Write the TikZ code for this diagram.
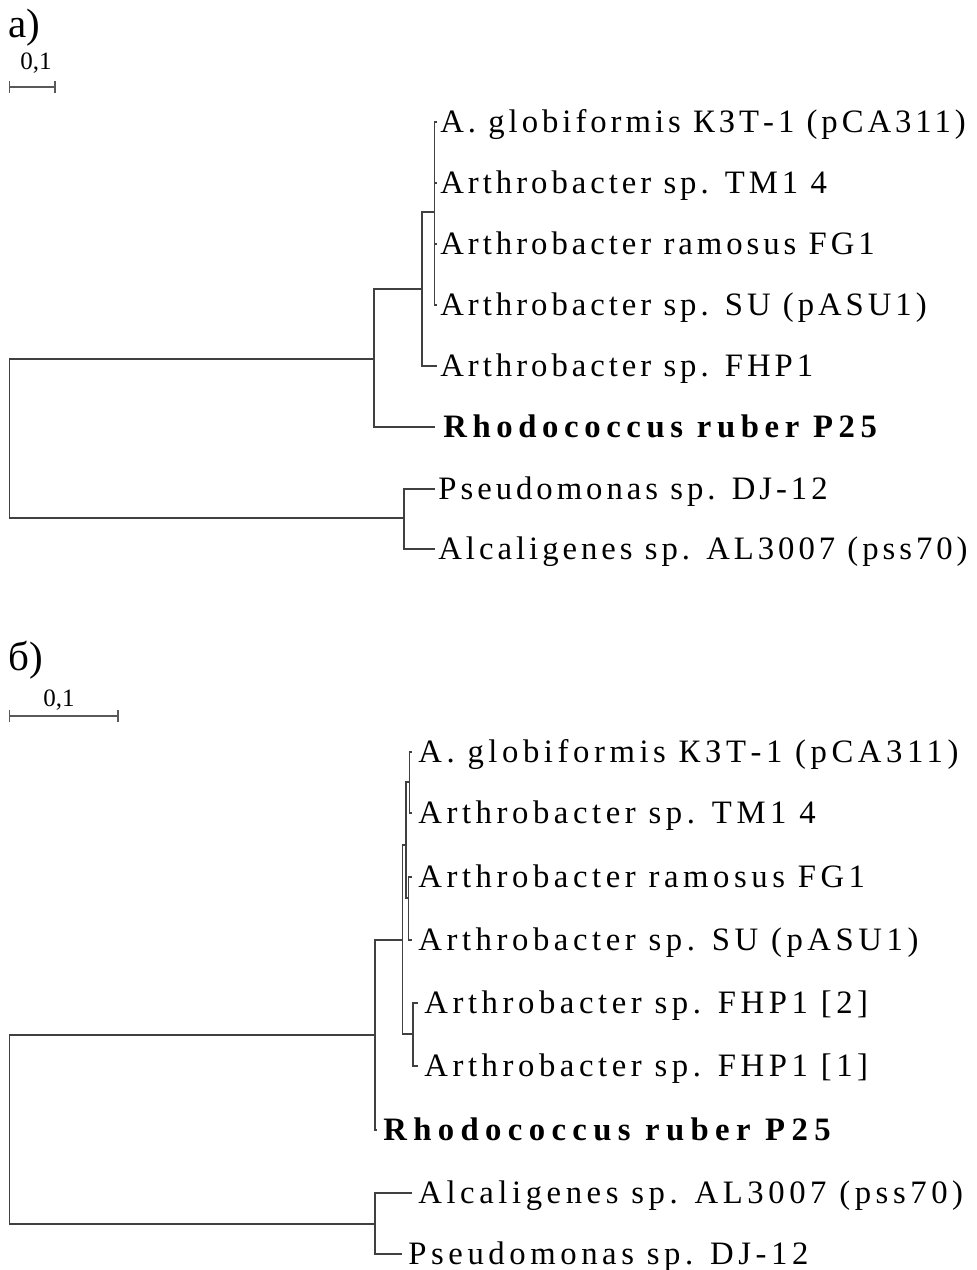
\documentclass[tikz,border=0pt]{standalone}
\usepackage{fontspec}
\setmainfont{Liberation Serif}
\newfontfamily\taxfont[LetterSpace=12.2]{Liberation Serif}
\newfontfamily\taxfontw[LetterSpace=14]{Liberation Serif}
\newfontfamily\strainfont[LetterSpace=17.2]{Liberation Serif}
\newfontfamily\strainfontw[LetterSpace=19.5]{Liberation Serif}
\usetikzlibrary{positioning}
\tikzset{
  branch/.style={draw=black!75, line width=0.6pt},
  scalebar/.style={draw=black!65, line width=0.9pt},
  taxon/.style={font=\taxfont\fontsize{16.35}{18}\selectfont, inner sep=0pt, text height=10.8pt, text depth=0pt},
  taxonw/.style={taxon, font=\taxfontw\fontsize{16.35}{18}\selectfont},
  strain/.style={taxon, font=\strainfont\bfseries\fontsize{16.35}{18}\selectfont},
  strainw/.style={taxon, font=\strainfontw\bfseries\fontsize{16.35}{18}\selectfont},
  panel/.style={font=\fontsize{20.5}{22}\selectfont, inner sep=0pt, anchor=base west},
  scalelbl/.style={font=\fontsize{12.5}{14}\selectfont, inner sep=0pt}
}
\begin{document}
\begin{tikzpicture}[x=0.5pt,y=-0.5pt]
  \useasboundingbox (0,0) rectangle (976,1270);
  % --- panel a: labels and scale ---
  \node[panel] (pa) at (8,37) {а)};
  \node[scalelbl] (sla) at (36,63.5) {0,1};
  \coordinate (sa0) at (9.5,87);
  \coordinate (sa1) at (55,87);
  \draw[scalebar] (sa0) -- (sa1);
  \draw[scalebar] (sa0) ++(0,-6) -- ++(0,12);
  \draw[scalebar] (sa1) ++(0,-6) -- ++(0,12);
  % --- panel a: inner nodes ---
  \coordinate (ra) at (9.5,438.5);
  \coordinate (a1) at (374,359);
  \coordinate (a2) at (422,289);
  \coordinate (a3) at (434.5,212);
  \coordinate (a4) at (404,518);
  \draw[branch] (ra) |- (a1);
  \draw[branch] (ra) |- (a4);
  \draw[branch] (a1) |- (a2);
  \draw[branch] (a2) |- (a3);
  % --- panel a: leaves ---
  \foreach \n/\y/\t in {glA/122/{A. globiformis КЗТ-1 (pCA311)}, tmA/183/{Arthrobacter sp. TM1 4},
                        raA/244/{Arthrobacter ramosus FG1}, suA/305/{Arthrobacter sp. SU (pASU1)}} {
    \coordinate (\n) at (437,\y);
    \draw[branch] (a3) |- (\n);
    \node[taxon, right=1.5pt of \n] (t\n) {\t};
  }
  \coordinate (fhA) at (437,366);
  \draw[branch] (a2) |- (fhA);
  \node[taxon, right=1.5pt of fhA] (tfhA) {Arthrobacter sp. FHP1};
  \coordinate (rhA) at (435,427);
  \draw[branch] (a1) |- (rhA);
  \node[strain, right=4pt of rhA] (trhA) {Rhodococcus ruber P25};
  \coordinate (psA) at (435,489);
  \draw[branch] (a4) |- (psA);
  \node[taxon, right=1.5pt of psA] (tpsA) {Pseudomonas sp. DJ-12};
  \coordinate (alA) at (435,549);
  \draw[branch] (a4) |- (alA);
  \node[taxon, right=1.5pt of alA] (talA) {Alcaligenes sp. AL3007 (pss70)};
  % --- panel b: labels and scale ---
  \node[panel] (pb) at (8,670) {б)};
  \node[scalelbl] (slb) at (59,700) {0,1};
  \coordinate (sb0) at (9.5,716);
  \coordinate (sb1) at (118,716);
  \draw[scalebar] (sb0) -- (sb1);
  \draw[scalebar] (sb0) ++(0,-6) -- ++(0,12);
  \draw[scalebar] (sb1) ++(0,-6) -- ++(0,12);
  % --- panel b: inner nodes ---
  \coordinate (rb) at (9.5,1129.5);
  \coordinate (b1) at (375,1035);
  \coordinate (b2) at (402.7,940);
  \coordinate (b3) at (406,845);
  \coordinate (b4) at (409.5,782);
  \coordinate (b5) at (408.7,898);
  \coordinate (b6) at (413,1034);
  \coordinate (b7) at (375,1224);
  \draw[branch] (rb) |- (b1);
  \draw[branch] (rb) |- (b7);
  \draw[branch] (b1) |- (b2);
  \draw[branch] (b2) |- (b3);
  \draw[branch] (b2) |- (b6);
  \draw[branch] (b3) |- (b4);
  \draw[branch] (b3) |- (b5);
  % --- panel b: leaves ---
  \foreach \p/\n/\x/\y/\t in {b4/glB/412/752/{A. globiformis КЗТ-1 (pCA311)}, b4/tmB/412/813/{Arthrobacter sp. TM1 4},
                              b5/raB/412/877/{Arthrobacter ramosus FG1}, b5/suB/412/940/{Arthrobacter sp. SU (pASU1)},
                              b6/f2B/418/1003/{Arthrobacter sp. FHP1 [2]}, b6/f1B/418/1066/{Arthrobacter sp. FHP1 [1]},
                              b7/alB/412/1193/{Alcaligenes sp. AL3007 (pss70)}, b7/psB/402/1254/{Pseudomonas sp. DJ-12}} {
    \coordinate (\n) at (\x,\y);
    \draw[branch] (\p) |- (\n);
    \node[taxonw, right=3pt of \n] (t\n) {\t};
  }
  \coordinate (rhB) at (377,1130);
  \draw[branch] (b1) |- (rhB);
  \node[strainw, right=3pt of rhB] (trhB) {Rhodococcus ruber P25};
\end{tikzpicture}
\end{document}
